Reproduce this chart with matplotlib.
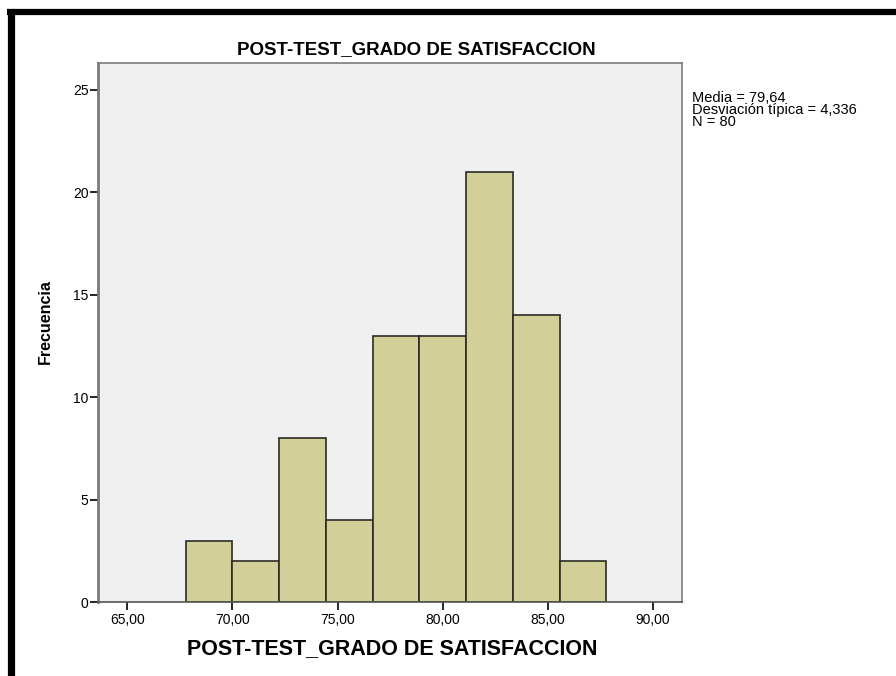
#!/usr/bin/env python3
"""Histograma POST-TEST_GRADO DE SATISFACCION (estilo SPSS)"""

import numpy as np
import matplotlib
matplotlib.use("Agg")
import matplotlib.pyplot as plt
from matplotlib.lines import Line2D

plt.rcParams["font.family"] = ["Liberation Sans", "DejaVu Sans"]

# bordes de los intervalos (anchura 20/9) y frecuencias
bin_start = 67.78
bin_width = 20 / 9
frecuencias = [3, 2, 8, 4, 13, 13, 21, 14, 2]
xticks = [65, 70, 75, 80, 85, 90]
xtick_labels = ["65,00", "70,00", "75,00", "80,00", "85,00", "90,00"]
yticks = [0, 5, 10, 15, 20, 25]
titulo = "POST-TEST_GRADO DE SATISFACCION"
stats = "Media = 79,64\nDesviación típica = 4,336\nN = 80"


def main():
    W, H = 896, 676
    fig = plt.figure(figsize=(W / 100, H / 100), dpi=100)
    # área del gráfico en píxeles
    left, right, top, bottom = 97.5, 682, 63, 602
    ax = fig.add_axes([left / W, 1 - bottom / H, (right - left) / W, (bottom - top) / H])
    ax.set_facecolor("#f0f0f0")

    edges = bin_start + bin_width * np.arange(len(frecuencias) + 1)
    ax.bar(edges[:-1], frecuencias, width=bin_width, align="edge",
           color="#d3cf98", edgecolor="#2b2b24", linewidth=1.2, zorder=2)

    ax.set_xlim(63.585, 91.38)
    ax.set_ylim(0, 26.3)
    ax.set_xticks(xticks)
    ax.set_xticklabels(xtick_labels)
    ax.set_yticks(yticks)
    ax.tick_params(axis="both", labelsize=10, colors="#000000", length=6, width=1.2)
    ax.tick_params(axis="y", pad=0.5)
    ax.tick_params(axis="x", pad=2)
    for s in ax.spines.values():
        s.set_color("#7a7a7a")
        s.set_linewidth(1.2)
    ax.spines["left"].set_linewidth(2)
    ax.spines["bottom"].set_color("#555555")

    # textos en coordenadas de píxel de la figura
    fig.text(416 / W, 1 - 54 / H, titulo, fontsize=13.5, fontweight="bold",
             ha="center", va="baseline")
    fig.text(392 / W, 1 - 654 / H, titulo, fontsize=15.5, fontweight="bold",
             ha="center", va="baseline")
    fig.text(45 / W, 1 - 322 / H, "Frecuencia", fontsize=11.5, fontweight="bold",
             ha="center", va="center", rotation=90)

    fig.text(692 / W, 1 - 91 / H, stats, fontsize=10.5, va="top", ha="left",
             linespacing=0.8)

    # marco negro de la captura
    fig.add_artist(Line2D([10.5 / W, 10.5 / W], [0, 1 - 9 / H], transform=fig.transFigure,
                          color="black", linewidth=5.2, solid_capstyle="butt"))
    fig.add_artist(Line2D([7 / W, 1], [1 - 12 / H, 1 - 12 / H], transform=fig.transFigure,
                          color="black", linewidth=4.5, solid_capstyle="butt"))

    fig.savefig("out.png", dpi=100)
    plt.close(fig)


if __name__ == "__main__":
    main()
